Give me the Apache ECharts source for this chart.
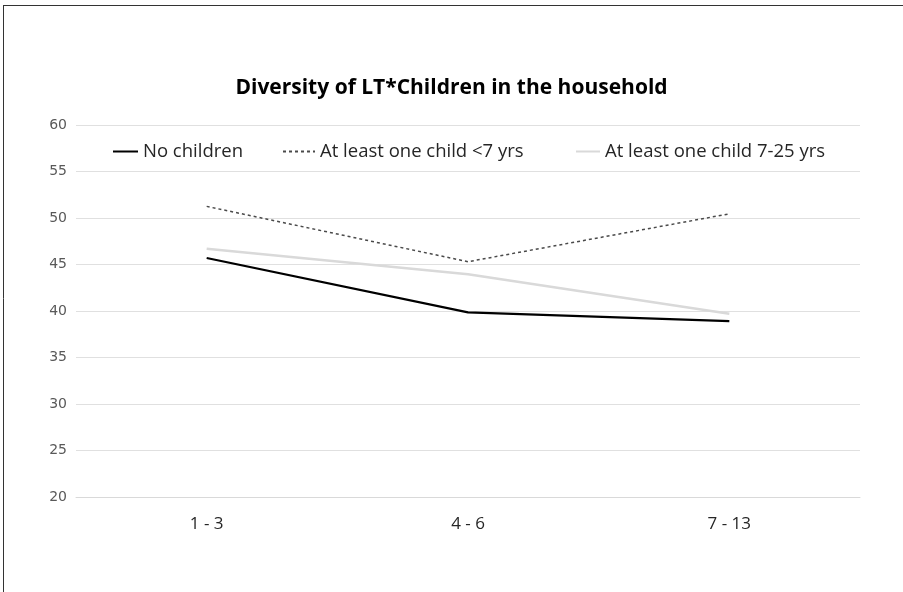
<!DOCTYPE html>
<html>
<head>
<meta charset="utf-8">
<script src="https://cdn.jsdelivr.net/npm/echarts@6/dist/echarts.min.js"></script>
<style>
  html, body { margin: 0; padding: 0; background: #fff; }
  #chart { width: 903px; height: 592px; }
</style>
</head>
<body>
<div id="chart"></div>
<script>
// Age groups of the children (x axis)
const categories = ['1 - 3', '4 - 6', '7 - 13'];

// Diversity scores per household type
const noChildren = [45.7, 39.85, 38.9];
const childUnder7 = [51.25, 45.3, 50.45];
const child7to25 = [46.7, 43.95, 39.7];

const seriesNames = ['No children', 'At least one child <7 yrs', 'At least one child 7-25 yrs'];

const yMin = 20, yMax = 60, yStep = 5;

const font = '"Open Sans", "Noto Sans", sans-serif';

const chart = echarts.init(document.getElementById('chart'), null, { renderer: 'canvas' });

// One legend per series so each entry can sit at its own spot
function legendFor(name, left, iconWidth) {
  return {
    data: [name],
    left: left,
    top: 142,
    padding: 0,
    itemWidth: iconWidth,
    itemHeight: 20,
    itemGap: 0,
    itemStyle: { opacity: 0 },
    textStyle: { fontFamily: font, fontSize: 18.5, color: '#262626' }
  };
}

chart.setOption({
  animation: false,
  backgroundColor: '#fff',
  title: {
    text: 'Diversity of LT*Children in the household',
    left: 'center',
    top: 73,
    textStyle: { fontFamily: font, fontSize: 21, fontWeight: 'bold', color: '#000' }
  },
  legend: [
    legendFor(seriesNames[0], 112, 25),
    legendFor(seriesNames[1], 282, 32),
    legendFor(seriesNames[2], 575, 24)
  ],
  grid: { left: 76, right: 43, top: 125, bottom: 95, containLabel: false },
  xAxis: {
    type: 'category',
    data: categories,
    boundaryGap: true,
    axisLine: { lineStyle: { color: '#d9d9d9', width: 1 } },
    axisTick: { show: false },
    axisLabel: { fontFamily: font, fontSize: 17, color: '#262626', margin: 19 }
  },
  yAxis: {
    type: 'value',
    min: yMin,
    max: yMax,
    interval: yStep,
    axisLine: { show: false },
    axisTick: { show: false },
    axisLabel: { fontFamily: '"DejaVu Sans", sans-serif', fontSize: 14, color: '#595959', margin: 9 },
    splitLine: { lineStyle: { color: '#e0e0e0', width: 1 } }
  },
  series: [
    {
      name: seriesNames[0], type: 'line', data: noChildren,
      symbol: 'none', z: 4,
      lineStyle: { color: '#000', width: 2.25 },
      itemStyle: { color: '#000' }
    },
    {
      name: seriesNames[1], type: 'line', data: childUnder7,
      symbol: 'none', z: 3,
      lineStyle: { color: '#4a4a4a', width: 1.5, type: [3, 3] },
      itemStyle: { color: '#4a4a4a' }
    },
    {
      name: seriesNames[2], type: 'line', data: child7to25,
      symbol: 'none', z: 2,
      lineStyle: { color: '#d9d9d9', width: 2.5 },
      itemStyle: { color: '#d9d9d9' }
    }
  ],
  graphic: [
    { type: 'line', shape: { x1: 3, y1: 5.5, x2: 903, y2: 5.5 }, style: { stroke: '#333', lineWidth: 1 } },
    { type: 'line', shape: { x1: 3.5, y1: 5, x2: 3.5, y2: 592 }, style: { stroke: '#333', lineWidth: 1 } }
  ]
});
</script>
</body>
</html>
